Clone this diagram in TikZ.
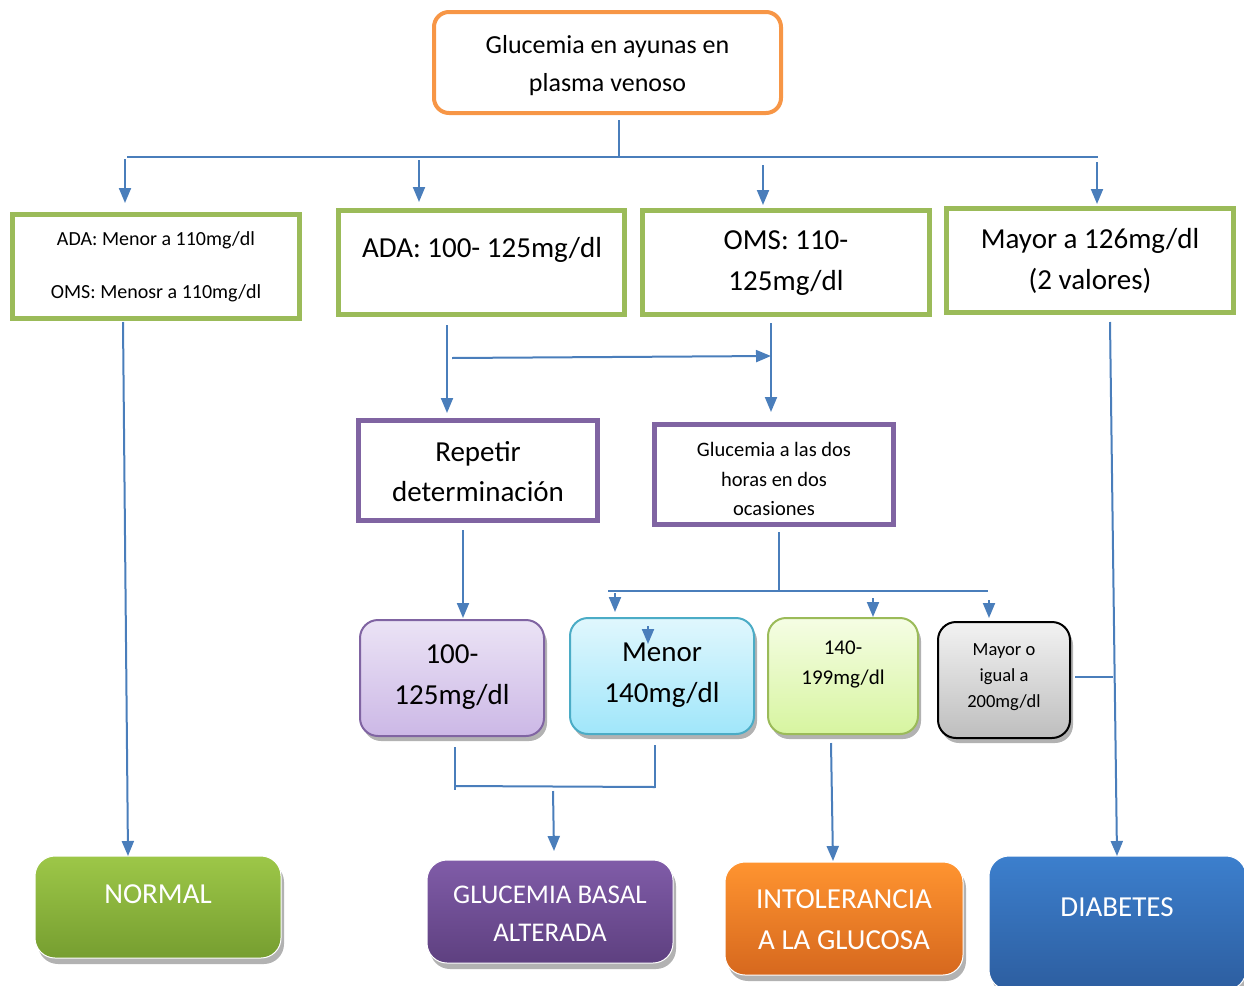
\documentclass[tikz,border=0pt]{standalone}
\usepackage{fontspec}
\setmainfont{Carlito}
\usetikzlibrary{arrows.meta,shadows}
\definecolor{lnblue}{RGB}{74,126,187}
\definecolor{gbord}{RGB}{155,187,89}
\definecolor{pbord}{RGB}{128,100,162}
\definecolor{obord}{RGB}{247,150,70}
\definecolor{cbord}{RGB}{75,172,198}
\newcommand\myfs[2]{\fontsize{#1}{#2}\selectfont}
\begin{document}
\begin{tikzpicture}[x=1pt,y=-1pt,
  conn/.style={draw=lnblue, line width=2pt},
  arr/.style={conn, -{Triangle[width=12pt,length=15pt]}},
  boxbase/.style={inner sep=0pt, outer sep=0pt},
  greenbox/.style={boxbase, draw=gbord, line width=5pt},
  purplebox/.style={boxbase, draw=pbord, line width=5pt},
  softbox/.style={boxbase, rounded corners=18pt, line width=2pt,
     drop shadow={shadow xshift=3pt, shadow yshift=-5pt, opacity=0.3, fill=black}},
  resbox/.style={boxbase, rounded corners=20pt, draw=white, line width=1pt,
     drop shadow={shadow xshift=3pt, shadow yshift=-6pt, opacity=0.3, fill=black}},
  txt/.style={align=center, inner sep=0pt, text=black},
  wtxt/.style={align=center, inner sep=0pt, text=white}]
\useasboundingbox (0,0) rectangle (1244,985);

% top box
\node[boxbase, draw=obord, line width=4pt, rounded corners=15pt, minimum width=347pt, minimum height=101pt] (top) at (607.5,62.5) {};
\node[txt, font=\myfs{26}{38}] (toptxt) at (607.5,66) {Glucemia en ayunas en\\plasma venoso};

% green boxes
\node[greenbox, minimum width=287pt, minimum height=104pt] (b1) at (156,266.5) {};
\node[txt, font=\myfs{20}{53}] (b1t) at (156,266.5) {ADA: Menor a 110mg/dl\\OMS: Menosr a 110mg/dl};
\node[greenbox, minimum width=286pt, minimum height=104pt] (b2) at (481.5,262.5) {};
\node[txt, font=\myfs{29}{41}] (b2t) at (482,250) {ADA: 100- 125mg/dl};
\node[greenbox, minimum width=287pt, minimum height=104pt] (b3) at (786,262.5) {};
\node[txt, font=\myfs{29}{41}] (b3t) at (786,263) {OMS: 110-\\125mg/dl};
\node[greenbox, minimum width=287pt, minimum height=104pt] (b4) at (1090,260.5) {};
\node[txt, font=\myfs{29}{41}] (b4t) at (1090,260.5) {Mayor a 126mg/dl\\(2 valores)};

% purple boxes
\node[purplebox, minimum width=239pt, minimum height=100pt] (rep) at (478,470.5) {};
\node[txt, font=\myfs{29}{40}] (rept) at (478,471.5) {Repetir\\determinación};
\node[purplebox, minimum width=239pt, minimum height=100pt] (g2h) at (774,474.5) {};
\node[txt, font=\myfs{20.5}{29.5}] (g2ht) at (774,479) {Glucemia a las dos\\horas en dos\\ocasiones};

% middle row
\node[softbox, draw=pbord, top color={rgb,255:red,235;green,227;blue,245}, bottom color={rgb,255:red,204;green,184;blue,230}, minimum width=184pt, minimum height=116pt] (c1) at (452,678) {};
\node[txt, font=\myfs{29}{41}] (c1t) at (452,677) {100-\\125mg/dl};
\node[softbox, draw=cbord, top color={rgb,255:red,224;green,247;blue,253}, bottom color={rgb,255:red,160;green,230;blue,250}, minimum width=184pt, minimum height=116pt] (c2) at (662,676) {};
\node[txt, font=\myfs{29}{41}] (c2t) at (662,675) {Menor\\140mg/dl};
\node[softbox, draw=gbord, top color={rgb,255:red,245;green,253;blue,228}, bottom color={rgb,255:red,215;green,245;blue,160}, minimum width=150pt, minimum height=116pt] (c3) at (843,676) {};
\node[txt, font=\myfs{21}{30}] (c3t) at (843,664) {140-\\199mg/dl};
\node[softbox, draw=black, top color={rgb,255:red,242;green,242;blue,242}, bottom color={rgb,255:red,190;green,190;blue,190}, minimum width=132pt, minimum height=116pt] (c4) at (1004,680) {};
\node[txt, font=\myfs{18.5}{26}] (c4t) at (1004,677) {Mayor o\\igual a\\200mg/dl};

% result boxes
\node[resbox, top color={rgb,255:red,157;green,199;blue,72}, bottom color={rgb,255:red,118;green,158;blue,48}, minimum width=246pt, minimum height=102pt] (normal) at (158,907) {};
\node[wtxt, font=\myfs{29}{41}] (normalt) at (158,894) {NORMAL};
\node[resbox, top color={rgb,255:red,128;green,92;blue,168}, bottom color={rgb,255:red,94;green,64;blue,128}, minimum width=246pt, minimum height=103pt] (gba) at (550,911.5) {};
\node[wtxt, font=\myfs{27}{38}] (gbat) at (550,914) {GLUCEMIA BASAL\\ALTERADA};
\node[resbox, top color={rgb,255:red,255;green,148;blue,48}, bottom color={rgb,255:red,214;green,104;blue,30}, minimum width=238pt, minimum height=113pt] (int) at (844,918.5) {};
\node[wtxt, font=\myfs{29}{41}] (intt) at (844,919.5) {INTOLERANCIA\\A LA GLUCOSA};
\node[resbox, top color={rgb,255:red,60;green,127;blue,205}, bottom color={rgb,255:red,45;green,94;blue,160}, minimum width=257pt, minimum height=134pt] (diab) at (1117.5,923) {};
\node[wtxt, font=\myfs{29}{41}] (diabt) at (1117,907) {DIABETES};

% connector points
\coordinate (t0) at (619,120);
\coordinate (t1) at (619,157);
\coordinate (busL) at (127,157);
\coordinate (busR) at (1098,157);
\coordinate (a1s) at (125,159);  \coordinate (a1e) at (125,203);
\coordinate (a2s) at (419,160);  \coordinate (a2e) at (419,202);
\coordinate (a3s) at (763,165);  \coordinate (a3e) at (763,205);
\coordinate (a4s) at (1097,162); \coordinate (a4e) at (1097,204);
\coordinate (n1s) at (123,322);  \coordinate (n1e) at (128,856);
\coordinate (r1s) at (447,325);  \coordinate (r1e) at (447,413);
\coordinate (h1s) at (452,358);  \coordinate (h1e) at (771,356);
\coordinate (g1s) at (771,323);  \coordinate (g1e) at (771,412);
\coordinate (c1s) at (463,530);  \coordinate (c1e) at (463,618);
\coordinate (g2s) at (779,532);  \coordinate (g2e) at (779,591);
\coordinate (bus2L) at (608,591); \coordinate (bus2R) at (988,591);
\coordinate (m1s) at (615,593);  \coordinate (m1e) at (615,612);
\coordinate (m2s) at (873,598);  \coordinate (m2e) at (873,617);
\coordinate (m3s) at (989,600);  \coordinate (m3e) at (989,618);
\coordinate (m4s) at (648,626);  \coordinate (m4e) at (648,644);
\coordinate (k1) at (455,747);   \coordinate (k2) at (455,790);
\coordinate (k3) at (455,786);   \coordinate (k4) at (655,787);
\coordinate (k5) at (655,745);   \coordinate (k6) at (655,788);
\coordinate (ga) at (553,791);   \coordinate (gb) at (554,851);
\coordinate (ia) at (831,743);   \coordinate (ib) at (833,861);
\coordinate (da) at (1110,322);  \coordinate (db) at (1117,856);
\coordinate (ea) at (1075,677);  \coordinate (eb) at (1113,677);

\draw[conn] (t0) -- (t1);
\draw[conn] (busL) -- (busR);
\draw[arr] (a1s) -- (a1e);
\draw[arr] (a2s) -- (a2e);
\draw[arr] (a3s) -- (a3e);
\draw[arr] (a4s) -- (a4e);
\draw[arr] (n1s) -- (n1e);
\draw[arr] (r1s) -- (r1e);
\draw[arr] (h1s) -- (h1e);
\draw[arr] (g1s) -- (g1e);
\draw[arr] (c1s) -- (c1e);
\draw[conn] (g2s) -- (g2e);
\draw[conn] (bus2L) -- (bus2R);
\draw[arr] (m1s) -- (m1e);
\draw[arr] (m2s) -- (m2e);
\draw[arr] (m3s) -- (m3e);
\draw[arr] (m4s) -- (m4e);
\draw[conn] (k1) -- (k2);
\draw[conn] (k3) -- (k4);
\draw[conn] (k5) -- (k6);
\draw[arr] (ga) -- (gb);
\draw[arr] (ia) -- (ib);
\draw[arr] (da) -- (db);
\draw[conn] (ea) -- (eb);
\end{tikzpicture}
\end{document}
